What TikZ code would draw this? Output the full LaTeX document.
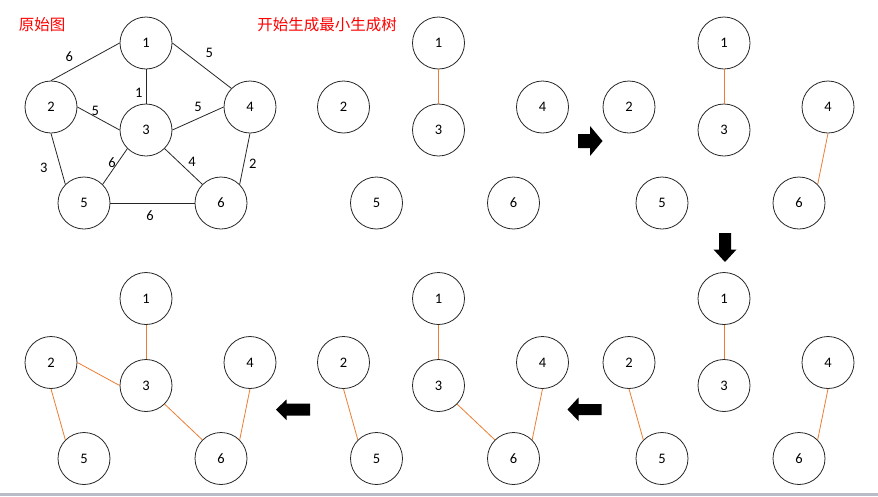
\documentclass[tikz,border=0pt]{standalone}
\usepackage{fontspec}
\setmainfont{Carlito}
\newfontfamily\cjk{Noto Sans CJK SC}
\usepackage{tikz}

\definecolor{treeorange}{RGB}{237,125,49}
\definecolor{rulegray}{RGB}{185,187,198}

\begin{document}
\begin{tikzpicture}[x=1pt, y=-1pt,
    vertex/.style={circle, draw=black!85, line width=0.8pt, minimum size=52pt, inner sep=0pt, font=\fontsize{14.5}{17}\selectfont},
    wt/.style={inner sep=0pt, font=\fontsize{14.5}{17}\selectfont},
    title/.style={inner sep=0pt, text=red, font=\cjk\fontsize{15.5}{18}\selectfont},
    plain/.style={draw=black!85, line width=0.8pt},
    tree/.style={draw=treeorange, line width=0.8pt}]

    \useasboundingbox (0,0) rectangle (878,496);

    % Titles

    \node[title] (t1) at (42,25) {原始图};
    \node[title] (t2) at (327,25) {开始生成最小生成树};

    % Nodes

    \node[vertex] (a1) at (146,43) {1};
    \node[vertex] (a2) at (51,107) {2};
    \node[vertex] (a3) at (146,130) {3};
    \node[vertex] (a4) at (250,107) {4};
    \node[vertex] (a5) at (84,203) {5};
    \node[vertex] (a6) at (221,203) {6};

    \begin{scope}[shift={(292.5,0)}]
    \node[vertex] (b1) at (146,43) {1};
    \node[vertex] (b2) at (51,107) {2};
    \node[vertex] (b3) at (146,130) {3};
    \node[vertex] (b4) at (250,107) {4};
    \node[vertex] (b5) at (84,203) {5};
    \node[vertex] (b6) at (221,203) {6};
    \end{scope}

    \begin{scope}[shift={(578,0)}]
    \node[vertex] (c1) at (146,43) {1};
    \node[vertex] (c2) at (51,107) {2};
    \node[vertex] (c3) at (146,130) {3};
    \node[vertex] (c4) at (250,107) {4};
    \node[vertex] (c5) at (84,203) {5};
    \node[vertex] (c6) at (221,203) {6};
    \end{scope}

    \begin{scope}[shift={(578,255.5)}]
    \node[vertex] (d1) at (146,43) {1};
    \node[vertex] (d2) at (51,107) {2};
    \node[vertex] (d3) at (146,130) {3};
    \node[vertex] (d4) at (250,107) {4};
    \node[vertex] (d5) at (84,203) {5};
    \node[vertex] (d6) at (221,203) {6};
    \end{scope}

    \begin{scope}[shift={(292.5,255.5)}]
    \node[vertex] (e1) at (146,43) {1};
    \node[vertex] (e2) at (51,107) {2};
    \node[vertex] (e3) at (146,130) {3};
    \node[vertex] (e4) at (250,107) {4};
    \node[vertex] (e5) at (84,203) {5};
    \node[vertex] (e6) at (221,203) {6};
    \end{scope}

    \begin{scope}[shift={(0,255.5)}]
    \node[vertex] (f1) at (146,43) {1};
    \node[vertex] (f2) at (51,107) {2};
    \node[vertex] (f3) at (146,130) {3};
    \node[vertex] (f4) at (250,107) {4};
    \node[vertex] (f5) at (84,203) {5};
    \node[vertex] (f6) at (221,203) {6};
    \end{scope}

    % Weights

    \node[wt] (w12) at (69.3,56.7) {6};
    \node[wt] (w14) at (209.3,52.7) {5};
    \node[wt] (w13) at (138.7,93.3) {1};
    \node[wt] (w23) at (95.3,111) {5};
    \node[wt] (w34) at (198,107.3) {5};
    \node[wt] (w25) at (43.7,168.3) {3};
    \node[wt] (w35) at (112,162.7) {6};
    \node[wt] (w36) at (192,161.7) {4};
    \node[wt] (w46) at (252.7,164) {2};
    \node[wt] (w56) at (150,215.7) {6};

    % Edges

    \draw[plain] (a1.west) -- (a2.north);
    \draw[plain] (a1.east) -- (a4.north west);
    \draw[plain] (a1.south) -- (a3.north);
    \draw[plain] (a2.east) -- (a3.west);
    \draw[plain] (a3.east) -- (a4.west);
    \draw[plain] (a2.south) -- (a5.north west);
    \draw[plain] (a3.south west) -- (a5.north east);
    \draw[plain] (a3.south east) -- (a6.north west);
    \draw[plain] (a4.south) -- (a6.north east);
    \draw[plain] (a5.east) -- (a6.west);

    \draw[tree] (b1.south) -- (b3.north);

    \draw[tree] (c1.south) -- (c3.north);
    \draw[tree] (c4.south) -- (c6.north east);

    \draw[tree] (d1.south) -- (d3.north);
    \draw[tree] (d2.south) -- (d5.north west);
    \draw[tree] (d4.south) -- (d6.north east);

    \draw[tree] (e1.south) -- (e3.north);
    \draw[tree] (e2.south) -- (e5.north west);
    \draw[tree] (e3.south east) -- (e6.north west);
    \draw[tree] (e4.south) -- (e6.north east);

    \draw[tree] (f1.south) -- (f3.north);
    \draw[tree] (f2.east) -- (f3.west);
    \draw[tree] (f2.south) -- (f5.north west);
    \draw[tree] (f3.south east) -- (f6.north west);
    \draw[tree] (f4.south) -- (f6.north east);

    % Step arrows

    \fill (578,134) -- (590,134) -- (590,126) -- (602.5,141) -- (590,156) -- (590,148) -- (578,148) -- cycle;
    \fill (719,233) -- (731,233) -- (731,249.5) -- (736.5,249.5) -- (725,262) -- (713.5,249.5) -- (719,249.5) -- cycle;
    \fill (601.5,404) -- (578.5,404) -- (578.5,397.5) -- (567.5,409.5) -- (578.5,421) -- (578.5,415) -- (601.5,415) -- cycle;
    \fill (310,403.5) -- (286.5,403.5) -- (286.5,399.5) -- (276,409.5) -- (286.5,420) -- (286.5,415.5) -- (310,415.5) -- cycle;

    % Bottom rule

    \fill[rulegray] (0,493) rectangle (878,496);

\end{tikzpicture}
\end{document}
